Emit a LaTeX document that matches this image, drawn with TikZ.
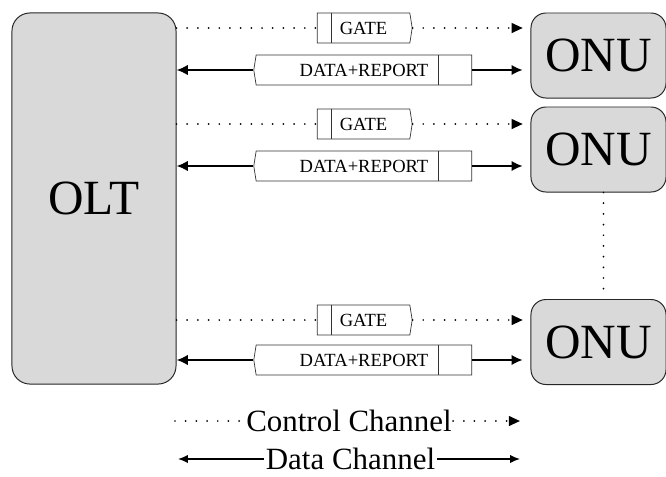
\documentclass[tikz,border=0pt]{standalone}
\usepackage{fontspec}
\setmainfont{Liberation Serif}
\usetikzlibrary{arrows.meta,shapes.symbols,calc}
\definecolor{boxgray}{HTML}{D9D9D9}
\begin{document}
\begin{tikzpicture}%
	[x={(0.025cm, 0cm)},
	y={(0cm, -0.025cm)},
	station/.style={draw=black!85, fill=boxgray, line width=0.7pt, inner sep=0pt},
	oltbox/.style={station, minimum width=4.1cm, minimum height=9.275cm, rounded corners=0.45cm, font=\fontsize{35}{40}\selectfont},
	onubox/.style={station, minimum width=3.375cm, minimum height=2.125cm, rounded corners=0.375cm, font=\fontsize{35}{40}\selectfont},
	gateframe/.style={signal, signal to=east, signal pointer angle=162, draw=black!80, fill=white, line width=0.5pt, inner sep=0pt, minimum width=2.375cm, minimum height=0.75cm, font=\fontsize{13.2}{15}\selectfont},
	dataframe/.style={signal, signal to=west, signal pointer angle=162, draw=black!80, fill=white, line width=0.5pt, inner sep=0pt, minimum width=5.45cm, minimum height=0.75cm, font=\fontsize{13.2}{15}\selectfont},
	ctrl/.style={line width=1.4pt, line cap=round, dash pattern=on 0pt off 7.6pt},
	ctrltip/.style={-{Triangle[length=8pt,width=7pt]}},
	dline/.style={line width=2pt},
	dtipright/.style={-{Latex[length=8pt,width=7.5pt]}},
	dtipleft/.style={{Latex[length=8pt,width=7.5pt]}-},
	legendtext/.style={inner sep=0.8pt, font=\fontsize{22}{26}\selectfont}]
%
\useasboundingbox (0,0) rectangle (666,476);
%%
%% Stations
%%
\node[oltbox] (olt) at (94,198.5) {OLT};
\node[onubox] (onu1) at (598.5,55.5) {ONU};
\node[onubox] (onu2) at (598.5,149.5) {ONU};
\node[onubox] (onu3) at (598.5,342) {ONU};
\draw[ctrl] ([xshift=0.125cm]onu2.south) -- ([xshift=0.125cm]onu3.north);
%%
%% Frames and channels
%%
\foreach \i/\gy/\dy in {1/28/70, 2/124/166, 3/320/360}
{
	\node[gateframe] (gate\i) at (363.5,\gy) {GATE};
	\draw[line width=0.5pt, black!80] ([xshift=0.375cm]gate\i.north west) -- ([xshift=0.375cm]gate\i.south west);
	\node[dataframe] (data\i) at (364,\dy) {DATA+REPORT};
	\draw[line width=0.5pt, black!80] ([xshift=-0.85cm]data\i.north east) -- ([xshift=-0.85cm]data\i.south east);
	%
	\draw[ctrl] (olt.east |- gate\i.west) -- (gate\i.west);
	\draw[ctrl,ctrltip,shorten >=5.5pt] (gate\i.east) -- (onu\i.west |- gate\i.east);
	\draw[dline,dtipleft] (olt.east |- data\i.west) -- (data\i.west);
	\draw[dline,dtipright,shorten >=5.5pt] (data\i.east) -- (onu\i.west |- data\i.east);
}
%%
%% Legend
%%
\coordinate (ctrlstart) at (175,421);
\coordinate (ctrlend) at (520,421);
\coordinate (datastart) at (178,459);
\coordinate (dataend) at (520,459);
\node[legendtext] (ctrllbl) at (349,421) {Control Channel};
\node[legendtext] (datalbl) at (350.5,459) {Data Channel};
\draw[ctrl] (ctrlstart) -- (ctrllbl.west);
\draw[ctrl,ctrltip] (ctrllbl.east) -- (ctrlend);
\draw[line width=1.1pt,{Latex[length=7pt,width=6pt]}-] (datastart) -- (datalbl.west);
\draw[line width=1.1pt,-{Latex[length=7pt,width=6pt]}] (datalbl.east) -- (dataend);

\end{tikzpicture}
\end{document}
